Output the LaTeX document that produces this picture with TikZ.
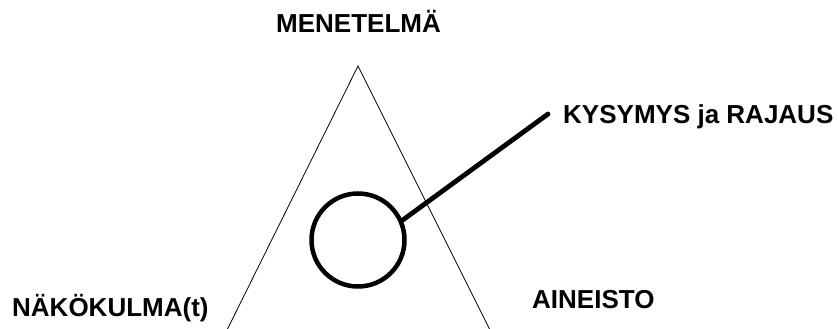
\documentclass[tikz,border=0pt]{standalone}
\usepackage{fontspec}
\setmainfont{Liberation Sans}
\begin{document}
\begin{tikzpicture}[x=1pt,y=-1pt,
  lbl/.style={font=\fontsize{26}{30}\selectfont\bfseries, inner sep=0pt, anchor=base west},
  thin side/.style={line width=0.8pt},
  thick ring/.style={draw, circle, line width=4.5pt, inner sep=0pt, minimum size=93pt},
  thick link/.style={line width=4.8pt, line cap=round}]
\useasboundingbox (0,0) rectangle (838,329);
\fill[white] (0,0) rectangle (838,329);
\coordinate (apex) at (358,66);
\coordinate (bl) at (227,330);
\coordinate (br) at (490,330);
\draw[thin side] (bl) -- (apex) -- (br);
\node[thick ring] (c) at (358,240) {};
\coordinate (kend) at (548,114);
\draw[thick link] (c.24) -- (kend);
\node[lbl] (m) at (276,33) {MENETELMÄ};
\node[lbl] (k) at (563,123) {KYSYMYS ja RAJAUS};
\node[lbl] (n) at (12,316) {NÄKÖKULMA(t)};
\node[lbl] (a) at (532,308) {AINEISTO};
\end{tikzpicture}
\end{document}
